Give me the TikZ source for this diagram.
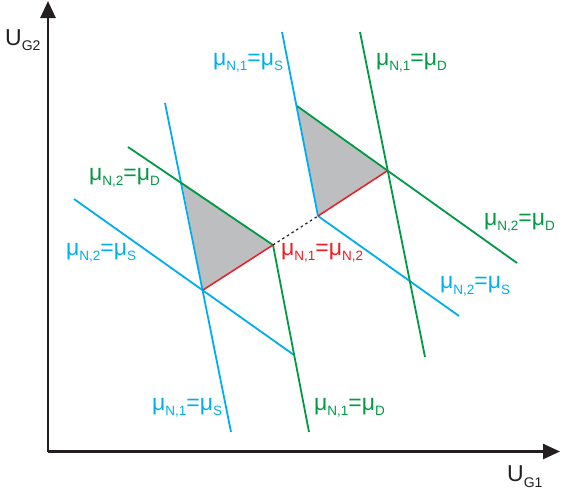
\documentclass[tikz,border=0pt]{standalone}
\usepackage{fontspec}
\setmainfont{Liberation Sans}
\usetikzlibrary{arrows.meta}
\definecolor{cblue}{RGB}{0,174,239}
\definecolor{cgreen}{RGB}{0,153,68}
\definecolor{cred}{RGB}{237,28,36}
\definecolor{cgray}{RGB}{188,190,192}
\definecolor{caxis}{RGB}{35,31,32}
\newcommand{\sbx}[1]{\raisebox{-5.5pt}{\fontsize{13.5}{13.5}\selectfont #1}}
\newcommand{\mulab}[2]{μ\sbx{#1}=μ\sbx{#2}}
\tikzset{
  bl/.style={draw=cblue, line width=1.8pt},
  gr/.style={draw=cgreen, line width=1.8pt},
  rd/.style={draw=cred, line width=1.5pt},
  axisline/.style={draw=caxis, line width=2.6pt, -{Triangle[length=17pt,width=15pt]}},
  lab/.style={anchor=base west, inner sep=0pt, font=\fontsize{23}{23}\selectfont},
  ulab/.style={anchor=base west, inner sep=0pt, font=\fontsize{23}{23}\selectfont},
}
\begin{document}
\begin{tikzpicture}[x=1pt,y=-1pt]
\useasboundingbox (0,0) rectangle (561,490);
% key points
\coordinate (A1) at (182,182);
\coordinate (B1) at (273,245);
\coordinate (C1) at (203,290);
\coordinate (A2) at (297,106);
\coordinate (B2) at (387,171);
\coordinate (C2) at (318,216);
% line ends
\coordinate (lbsT) at (165,103);
\coordinate (lbsB) at (231,432);
\coordinate (lgsB) at (309,432);
\coordinate (lgdL) at (128,147);
\coordinate (lbdL) at (74,199);
\coordinate (lbdR) at (294,355);
\coordinate (rbsT) at (282,32);
\coordinate (rbdR) at (459,316);
\coordinate (rgsT) at (360,32);
\coordinate (rgsB) at (425,357);
\coordinate (rgdR) at (517,263);
\coordinate (O) at (48,451.5);
\coordinate (Ytip) at (48,1);
\coordinate (Xtip) at (560,451.5);
% shaded triangles
\fill[cgray] (A1) -- (B1) -- (C1) -- cycle;
\fill[cgray] (A2) -- (B2) -- (C2) -- cycle;
% axes
\draw[axisline] (O) -- (Ytip);
\draw[axisline] (O) -- (Xtip);
% lines
\draw[bl] (lbsT) -- (lbsB);
\draw[bl] (lbdL) -- (lbdR);
\draw[gr] (lgdL) -- (B1);
\draw[gr] (B1) -- (lgsB);
\draw[rd] (C1) -- (B1);
\draw[caxis, line width=1.2pt, dash pattern=on 2.5pt off 3pt] (B1) -- (C2);
\draw[bl] (rbsT) -- (C2);
\draw[bl] (C2) -- (rbdR);
\draw[gr] (rgsT) -- (rgsB);
\draw[gr] (A2) -- (rgdR);
\draw[rd] (C2) -- (B2);
% labels
\node[lab, text=cblue] (t1) at (213,65) {\mulab{N,1}{S}};
\node[lab, text=cgreen] (t2) at (376,65) {\mulab{N,1}{D}};
\node[lab, text=cgreen] (t3) at (89,180) {\mulab{N,2}{D}};
\node[lab, text=cblue] (t4) at (66,255) {\mulab{N,2}{S}};
\node[lab, text=cred] (t5) at (281,255) {\mulab{N,1}{N,2}};
\node[lab, text=cgreen] (t6) at (484,225) {\mulab{N,2}{D}};
\node[lab, text=cblue] (t7) at (440,288.5) {\mulab{N,2}{S}};
\node[lab, text=cblue] (t8) at (152,410) {\mulab{N,1}{S}};
\node[lab, text=cgreen] (t9) at (314,410) {\mulab{N,1}{D}};
\node[ulab, text=caxis] (uy) at (5,45) {U\raisebox{-5pt}{\fontsize{14}{14}\selectfont G2}};
\node[ulab, text=caxis] (ux) at (507,481.5) {U\raisebox{-6pt}{\fontsize{14}{14}\selectfont G1}};
\end{tikzpicture}
\end{document}
